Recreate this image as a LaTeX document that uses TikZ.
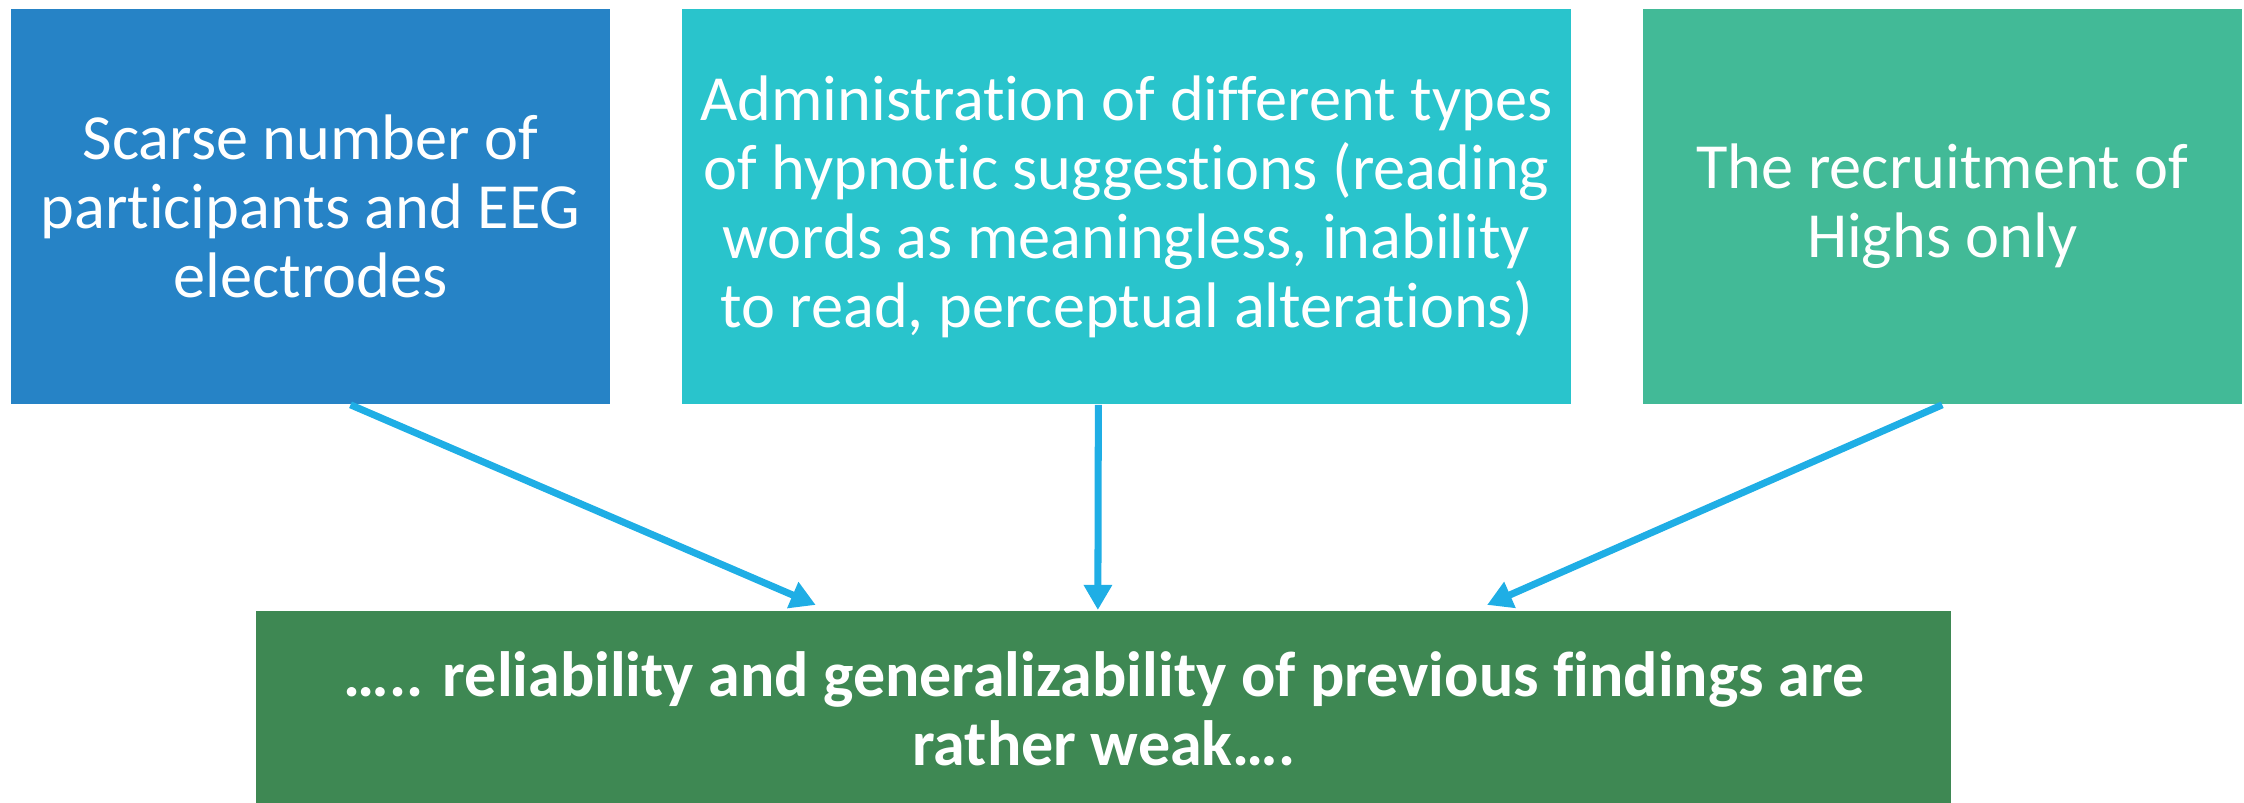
\documentclass[tikz,border=0pt]{standalone}
\usepackage{fontspec}
\setmainfont{Carlito}[Ligatures=NoCommon]
\usepackage{tikz}
\usetikzlibrary{positioning, arrows.meta}
\definecolor{causeblue}{HTML}{2683C6}
\definecolor{causeteal}{HTML}{29C4CC}
\definecolor{causegreen}{HTML}{42BA97}
\definecolor{resultgreen}{HTML}{3E8853}
\definecolor{linkblue}{HTML}{1FAEE5}
\tikzset{
x=0.01cm, y=-0.01cm, % one unit is one pixel, y grows downwards
cause/.style={rectangle, text=white, align=center, inner sep=0pt, minimum height=3.95cm, font=\fontsize{18.3}{19.6}\selectfont}, % the three boxes on top
result/.style={rectangle, fill=resultgreen, text=white, align=center, inner sep=0pt, minimum width=16.94cm, minimum height=1.96cm, font=\fontsize{18.2}{19.6}\selectfont\bfseries}, % the conclusion box
link/.style={draw=linkblue, line width=2pt, -{Triangle[length=0.25cm, width=0.27cm]}}, % the blue arrows
}
\begin{document}
\begin{tikzpicture}
                \useasboundingbox (0,0) rectangle (2244,803);
                \node[cause, fill=causeblue, minimum width=5.99cm] at (310.5,206.5) (scarse) {Scarse number of\\participants and EEG\\electrodes};
                \node[cause, fill=causeteal, minimum width=8.89cm, right=0.7cm of scarse] (admin) {Administration of different types\\of hypnotic suggestions (reading\\words as meaningless, inability\\to read, perceptual alterations)};
                \node[cause, fill=causegreen, minimum width=5.99cm, right=0.7cm of admin] (highs) {The recruitment of\\Highs only};
                \node[result, below=2.05cm of admin, xshift=-0.225cm] (weak) {….. reliability and generalizability of previous findings are\\rather weak….};
                \draw[link] ([xshift=0.4cm]scarse.south) -- ([xshift=-2.88cm, yshift=0.05cm]weak.north);
                \draw[link] ([xshift=-0.28cm]admin.south) -- ([xshift=-0.06cm]weak.north);
                \draw[link] (highs.south) -- ([xshift=3.83cm, yshift=0.05cm]weak.north);
                \end{tikzpicture}
\end{document}
